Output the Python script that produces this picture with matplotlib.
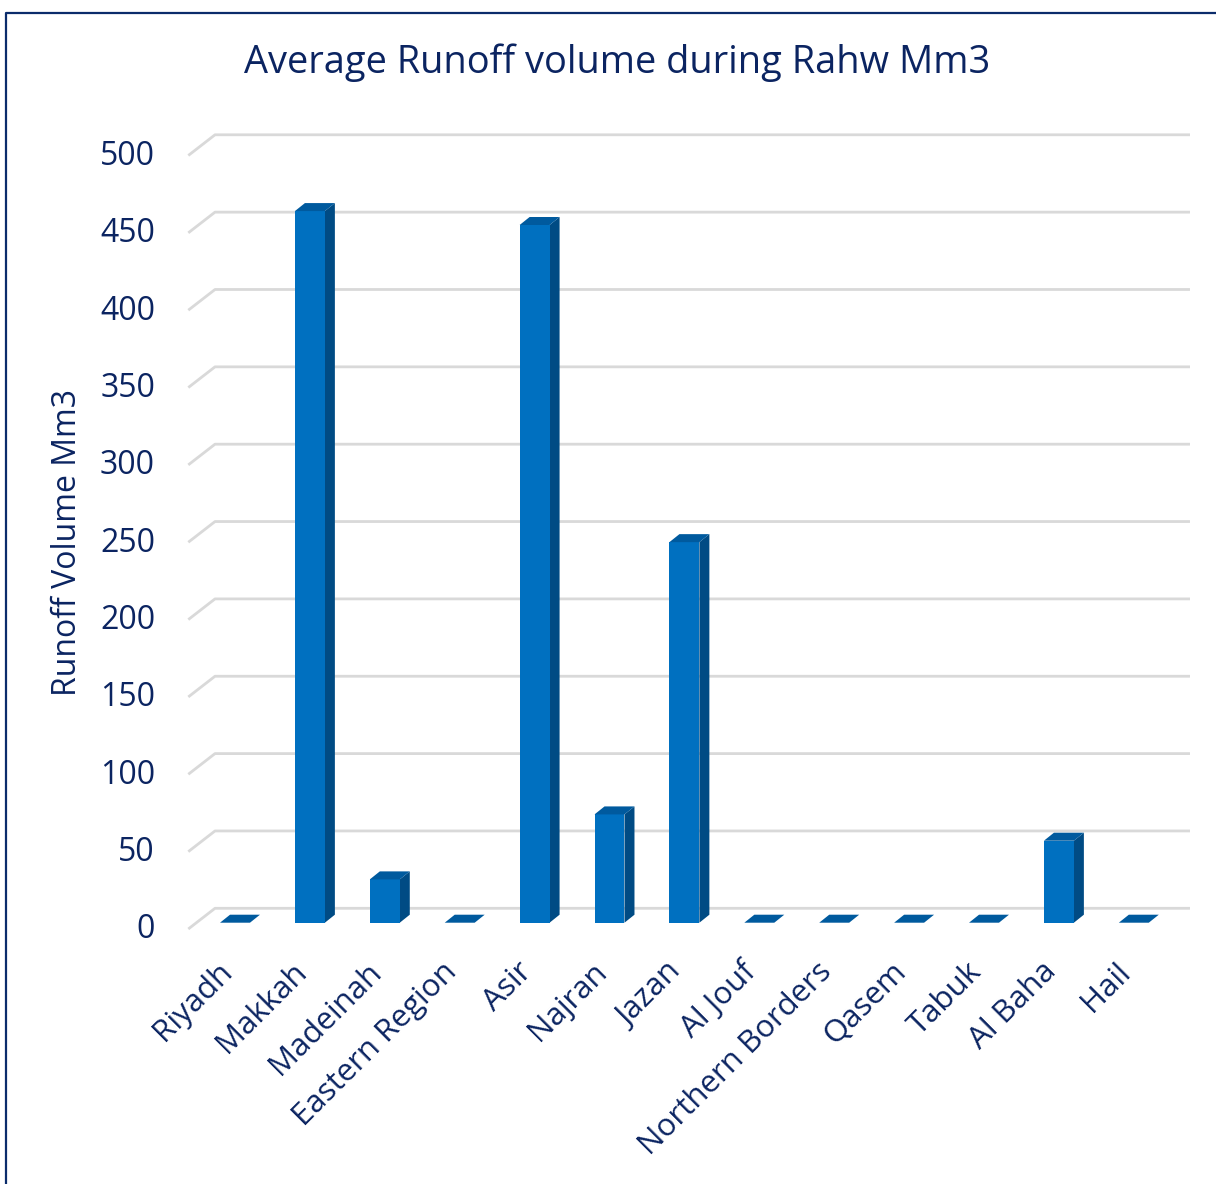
import numpy as np
import matplotlib.pyplot as plt
from matplotlib.patches import Polygon
from matplotlib.lines import Line2D

# datos
regiones = ["Riyadh", "Makkah", "Madeinah", "Eastern Region", "Asir", "Najran", "Jazan",
            "Al Jouf", "Northern Borders", "Qasem", "Tabuk", "Al Baha", "Hail"]
volumen = [0, 460, 28, 0, 451, 70, 246, 0, 0, 0, 0, 53, 0]
marcas_y = [0, 50, 100, 150, 200, 250, 300, 350, 400, 450, 500]

titulo = "Average Runoff volume during Rahw Mm3"
etiqueta_y = "Runoff Volume Mm3"

# estilo
azul_frente = "#0070C0"
azul_lado = "#004B84"
azul_arriba = "#005A9E"
texto = "#0B2461"
gris = "#D9D9D9"
plt.rcParams['font.family'] = ['Open Sans', 'DejaVu Sans']

# efecto 3D (en unidades de datos)
ancho = 0.40
prof_x, prof_y = 0.1335, 5.17      # profundidad de cada barra
pared_x, pared_y = -0.267, 9.31    # pared del fondo
piso_x, piso_y = -0.6235, -4.07    # borde frontal del piso
x_der = 12.75

fig = plt.figure(figsize=(12.16, 11.84), dpi=100)
ax = fig.add_axes([0.16246, 0.22069, 0.80074, 0.65330])
ax.set_xlim(-0.5, len(regiones) - 0.5)
ax.set_ylim(0, 500)
ax.axis('off')

# lineas de la cuadricula (piso inclinado + pared)
for v in marcas_y:
    ax.plot([piso_x, pared_x, x_der], [v + piso_y, v + pared_y, v + pared_y],
            color=gris, lw=2.0, zorder=1, clip_on=False, solid_capstyle='butt')
    ax.text(-1.068, v - 4.7, str(v), ha='right', va='center', fontsize=23,
            color=texto, clip_on=False)

# barras
x = np.arange(len(regiones))
ax.bar(x, volumen, width=ancho, color=azul_frente, linewidth=0, zorder=4)
for xi, v in zip(x, volumen):
    izq, der = xi - ancho / 2, xi + ancho / 2
    lado = Polygon([(der, 0), (der + prof_x, prof_y), (der + prof_x, v + prof_y), (der, v)],
                   closed=True, facecolor=azul_lado, edgecolor='none', zorder=3, clip_on=False)
    arriba = Polygon([(izq, v), (der, v), (der + prof_x, v + prof_y), (izq + prof_x, v + prof_y)],
                     closed=True, facecolor=azul_arriba, edgecolor='none', zorder=5, clip_on=False)
    ax.add_patch(lado)
    ax.add_patch(arriba)

# etiquetas de categorias
for xi, nombre in zip(x, regiones):
    ax.text(xi - 0.24, -22, nombre, rotation=45, rotation_mode='anchor', ha='right', va='top',
            fontsize=22.5, color=texto, clip_on=False)

fig.text(617 / 1216, 1 - 63 / 1184, titulo, ha='center', va='center', fontsize=27.4, color=texto)
fig.text(68 / 1216, 1 - 542 / 1184, etiqueta_y, rotation=90, ha='center', va='center',
         fontsize=23, color=texto)

# marco
fig.add_artist(Line2D([6 / 1216, 6 / 1216, 1.0], [0.0, 1 - 12.5 / 1184, 1 - 12.5 / 1184],
                      transform=fig.transFigure, color="#0B2C6B", lw=1.6))

fig.savefig("out.png", dpi=100)
